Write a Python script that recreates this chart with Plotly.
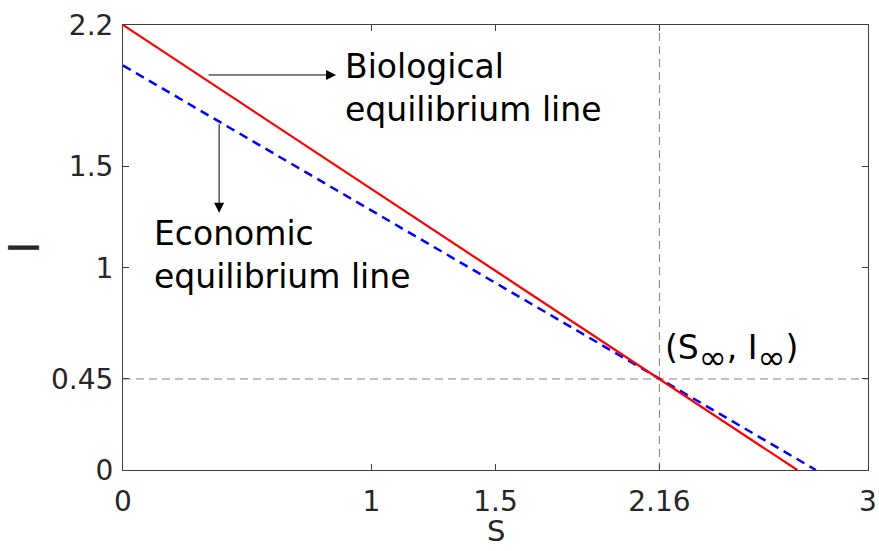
import plotly.graph_objects as go

# Equilibrium lines in the (S, I) plane
bio_S = [0, 2.16, 2.715]
bio_I = [2.2, 0.45, 0]
eco_S = [0, 2.16, 2.79]
eco_I = [2.0, 0.45, 0]

# Equilibrium point
S_inf = 2.16
I_inf = 0.45

x_ticks = [0, 1, 1.5, 2.16, 3]
x_labels = ["0", "1", "1.5", "2.16", "3"]
y_ticks = [0, 0.45, 1, 1.5, 2.2]
y_labels = ["0", "0.45", "1", "1.5", "2.2"]

FONT = "DejaVu Sans, Liberation Sans, Arial, sans-serif"

fig = go.Figure()

# Guide lines through the equilibrium point
fig.add_trace(go.Scatter(x=[S_inf, S_inf], y=[0, 2.2], mode="lines",
                         line=dict(color="#808080", width=1, dash="8px,5px"),
                         showlegend=False, hoverinfo="skip"))
fig.add_trace(go.Scatter(x=[0, 3], y=[I_inf, I_inf], mode="lines",
                         line=dict(color="#808080", width=1, dash="8px,5px"),
                         showlegend=False, hoverinfo="skip"))

fig.add_trace(go.Scatter(x=eco_S, y=eco_I, mode="lines",
                         line=dict(color="#0000ff", width=2.5, dash="9px,6px"),
                         showlegend=False))
fig.add_trace(go.Scatter(x=bio_S, y=bio_I, mode="lines",
                         line=dict(color="#ff0000", width=2.2),
                         showlegend=False))

txt = dict(family=FONT, size=33, color="black")

# Pointer arrows from each line to its label
fig.add_annotation(x=0.858, y=1.953, ax=-129, ay=0, text="", showarrow=True,
                   arrowhead=2, arrowsize=2, arrowwidth=1, arrowcolor="black")
fig.add_annotation(x=0.387, y=1.272, ax=0, ay=-90, text="", showarrow=True,
                   arrowhead=2, arrowsize=2, arrowwidth=1, arrowcolor="black")

fig.add_annotation(x=0.886, y=1.889, text="Biological<br>equilibrium line",
                   showarrow=False, xanchor="left", yanchor="middle", align="left",
                   font=txt)
fig.add_annotation(x=0.117, y=1.065, text="Economic<br>equilibrium line",
                   showarrow=False, xanchor="left", yanchor="middle", align="left",
                   font=txt)

# Equilibrium point label: large base font so the subscripts stay big
def norm(s):
    return f'<span style="font-size:33px">{s}</span>'

point_label = norm("(S") + "<sub>∞</sub>" + norm(", I") + "<sub>∞</sub>" + norm(")")
fig.add_annotation(x=2.175, y=0.58, text=point_label, showarrow=False,
                   xanchor="left", yanchor="middle",
                   font=dict(family=FONT, size=48, color="black"))

# x-axis title
fig.add_annotation(x=0.5, y=0, xref="x domain", yref="y domain", yshift=-61,
                   text="S", showarrow=False, xanchor="center", yanchor="middle",
                   borderpad=0, font=dict(family=FONT, size=29, color="#262626"))

axis_common = dict(showline=True, linecolor="#404040", linewidth=1, mirror="ticks",
                   ticks="inside", ticklen=6, tickcolor="#404040", showgrid=False,
                   zeroline=False, automargin=False,
                   tickfont=dict(family=FONT, size=28, color="#262626"))

fig.update_xaxes(range=[0, 3], tickvals=x_ticks, ticktext=x_labels,
                 ticklabelstandoff=6, **axis_common)
fig.update_yaxes(range=[0, 2.2], tickvals=y_ticks, ticktext=y_labels,
                 ticklabelstandoff=3,
                 title=dict(text="I", font=dict(family=FONT, size=42, color="#262626"),
                            standoff=16),
                 **axis_common)

fig.update_layout(width=879, height=551, plot_bgcolor="white", paper_bgcolor="white",
                  margin=dict(l=123, r=11, t=25, b=81))

fig.write_html("out.html")
